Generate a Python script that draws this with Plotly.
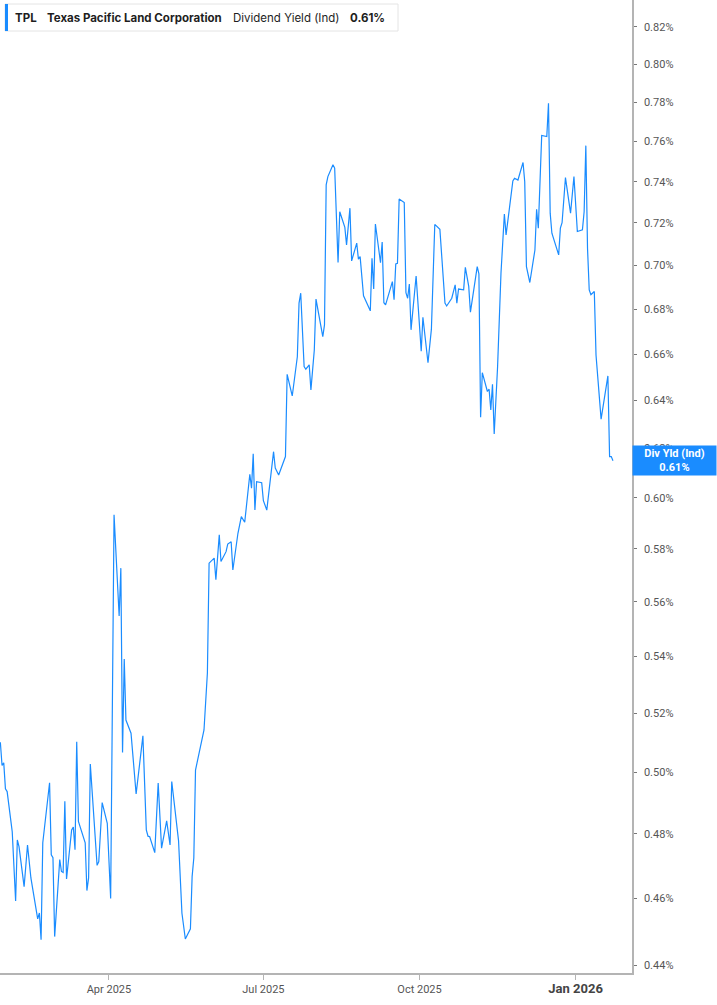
import math
import plotly.graph_objects as go

# dividend yield (ind), %
dates = [
    "2025-01-27", "2025-01-28", "2025-01-29", "2025-01-30", "2025-01-31", "2025-02-03", "2025-02-05", "2025-02-06",
    "2025-02-07", "2025-02-10", "2025-02-12", "2025-02-14", "2025-02-18", "2025-02-19", "2025-02-20", "2025-02-21",
    "2025-02-25", "2025-02-26", "2025-02-27", "2025-02-28", "2025-03-03", "2025-03-04", "2025-03-05", "2025-03-06",
    "2025-03-07", "2025-03-10", "2025-03-11", "2025-03-12", "2025-03-13", "2025-03-14", "2025-03-18", "2025-03-19",
    "2025-03-20", "2025-03-21", "2025-03-25", "2025-03-26", "2025-03-28", "2025-03-31", "2025-04-02", "2025-04-04",
    "2025-04-07", "2025-04-08", "2025-04-09", "2025-04-10", "2025-04-11", "2025-04-14", "2025-04-17", "2025-04-21",
    "2025-04-23", "2025-04-24", "2025-04-25", "2025-04-28", "2025-04-30", "2025-05-02", "2025-05-05", "2025-05-07",
    "2025-05-08", "2025-05-12", "2025-05-14", "2025-05-16", "2025-05-19", "2025-05-20", "2025-05-21", "2025-05-22",
    "2025-05-27", "2025-05-29", "2025-05-30", "2025-06-02", "2025-06-03", "2025-06-05", "2025-06-06", "2025-06-09",
    "2025-06-10", "2025-06-12", "2025-06-13", "2025-06-16", "2025-06-18", "2025-06-20", "2025-06-23", "2025-06-24",
    "2025-06-25", "2025-06-26", "2025-06-27", "2025-06-30", "2025-07-01", "2025-07-03", "2025-07-07", "2025-07-08",
    "2025-07-10", "2025-07-14", "2025-07-15", "2025-07-18", "2025-07-21", "2025-07-22", "2025-07-23", "2025-07-25",
    "2025-07-26", "2025-07-28", "2025-07-29", "2025-07-31", "2025-08-01", "2025-08-03", "2025-08-05", "2025-08-06",
    "2025-08-07", "2025-08-08", "2025-08-11", "2025-08-12", "2025-08-14", "2025-08-15", "2025-08-18", "2025-08-19",
    "2025-08-21", "2025-08-22", "2025-08-25", "2025-08-26", "2025-08-27", "2025-08-29", "2025-09-02", "2025-09-03",
    "2025-09-04", "2025-09-05", "2025-09-08", "2025-09-09", "2025-09-10", "2025-09-11", "2025-09-14", "2025-09-15",
    "2025-09-16", "2025-09-17", "2025-09-18", "2025-09-19", "2025-09-22", "2025-09-23", "2025-09-24", "2025-09-25",
    "2025-09-26", "2025-09-29", "2025-10-02", "2025-10-03", "2025-10-06", "2025-10-08", "2025-10-10", "2025-10-13",
    "2025-10-16", "2025-10-17", "2025-10-20", "2025-10-22", "2025-10-23", "2025-10-24", "2025-10-27", "2025-10-28",
    "2025-10-30", "2025-10-31", "2025-11-04", "2025-11-05", "2025-11-06", "2025-11-07", "2025-11-10", "2025-11-11",
    "2025-11-12", "2025-11-13", "2025-11-14", "2025-11-16", "2025-11-18", "2025-11-20", "2025-11-21", "2025-11-25",
    "2025-11-26", "2025-11-28", "2025-12-01", "2025-12-02", "2025-12-03", "2025-12-05", "2025-12-08", "2025-12-09",
    "2025-12-10", "2025-12-12", "2025-12-15", "2025-12-16", "2025-12-17", "2025-12-18", "2025-12-22", "2025-12-23",
    "2025-12-24", "2025-12-26", "2025-12-29", "2025-12-31", "2026-01-02", "2026-01-05", "2026-01-06", "2026-01-07",
    "2026-01-08", "2026-01-09", "2026-01-10", "2026-01-12", "2026-01-13", "2026-01-16", "2026-01-20", "2026-01-21",
    "2026-01-22", "2026-01-23",
]
yield_pct = [
    0.5101, 0.5023, 0.5032, 0.4946, 0.4937, 0.4807, 0.4591, 0.4781,
    0.4760, 0.4635, 0.4765, 0.4662, 0.4537, 0.4555, 0.4475, 0.4772,
    0.4966, 0.4734, 0.4725, 0.4484, 0.4719, 0.4682, 0.4679, 0.4905,
    0.4659, 0.4813, 0.4822, 0.4750, 0.5103, 0.4840, 0.4772, 0.4623,
    0.4662, 0.5028, 0.4701, 0.4713, 0.4901, 0.4834, 0.4599, 0.5932,
    0.5547, 0.5726, 0.5067, 0.5391, 0.5177, 0.5132, 0.4929, 0.5123,
    0.4813, 0.4793, 0.4791, 0.4741, 0.4965, 0.4755, 0.4842, 0.4765,
    0.4970, 0.4779, 0.4554, 0.4477, 0.4507, 0.4666, 0.4724, 0.5008,
    0.5143, 0.5341, 0.5745, 0.5764, 0.5682, 0.5854, 0.5751, 0.5789,
    0.5818, 0.5827, 0.5719, 0.5860, 0.5925, 0.5903, 0.6094, 0.6038,
    0.6177, 0.5951, 0.6064, 0.6060, 0.5988, 0.5951, 0.6186, 0.6119,
    0.6091, 0.6166, 0.6512, 0.6419, 0.6588, 0.6827, 0.6872, 0.6545,
    0.6534, 0.6553, 0.6445, 0.6618, 0.6845, 0.6766, 0.6677, 0.6729,
    0.7384, 0.7425, 0.7483, 0.7467, 0.7013, 0.7254, 0.7179, 0.7096,
    0.7271, 0.7021, 0.7104, 0.7029, 0.7041, 0.6860, 0.6792, 0.7033,
    0.6891, 0.7195, 0.7013, 0.7109, 0.6829, 0.6819, 0.6903, 0.6925,
    0.6842, 0.7007, 0.7010, 0.7315, 0.7298, 0.6875, 0.6849, 0.6914,
    0.6707, 0.6951, 0.6613, 0.6763, 0.6562, 0.6710, 0.7193, 0.7170,
    0.6827, 0.6814, 0.6849, 0.6910, 0.6827, 0.6891, 0.6887, 0.6991,
    0.6903, 0.6786, 0.6994, 0.6961, 0.6329, 0.6519, 0.6438, 0.6448,
    0.6360, 0.6469, 0.6259, 0.6545, 0.6964, 0.7243, 0.7143, 0.7403,
    0.7417, 0.7408, 0.7495, 0.7400, 0.6994, 0.6921, 0.7072, 0.7266,
    0.7175, 0.7630, 0.7625, 0.7795, 0.7247, 0.7151, 0.7049, 0.7175,
    0.7201, 0.7420, 0.7247, 0.7425, 0.7159, 0.7167, 0.7254, 0.7579,
    0.7080, 0.6887, 0.6865, 0.6880, 0.6596, 0.6321, 0.6505, 0.6166,
    0.6166, 0.6149,
]

y_ticks = [0.44, 0.46, 0.48, 0.50, 0.52, 0.54, 0.56, 0.58, 0.60, 0.62,
           0.64, 0.66, 0.68, 0.70, 0.72, 0.74, 0.76, 0.78, 0.80, 0.82]
y_tick_labels = ["%.2f%%" % v for v in y_ticks]
x_ticks = ["2025-04-01", "2025-07-01", "2025-10-01", "2026-01-01"]
x_tick_labels = ["Apr 2025", "Jul 2025", "Oct 2025",
                 "<b><span style='font-size:13px;color:#444'>Jan 2026</span></b>"]

ticker = "TPL"
company = "Texas Pacific Land Corporation"
metric = "Dividend Yield (Ind)"
last_val = yield_pct[-1]

BLUE = "#1a8cff"
W, H = 717, 1005
PL, PR, PT, PB = 0, 85, 0, 32
pw, ph = W - PL - PR, H - PT - PB


def px(x):
    return x / pw


def py(y):
    return 1 - y / ph


fig = go.Figure()
fig.add_trace(go.Scatter(x=dates, y=yield_pct, mode="lines",
                         line=dict(color=BLUE, width=1.2), hoverinfo="skip"))

fig.update_layout(
    width=W, height=H,
    margin=dict(l=PL, r=PR, t=PT, b=PB),
    paper_bgcolor="white", plot_bgcolor="white",
    showlegend=False,
    font=dict(family="Roboto", size=11, color="#555"),
)
fig.update_xaxes(
    type="date", range=["2025-01-26 19:00", "2026-02-03 05:00"],
    tickvals=x_ticks, ticktext=x_tick_labels,
    showgrid=False, zeroline=False,
    showline=True, linecolor="#b4b4b4", linewidth=1.5,
    ticks="outside", ticklen=5, tickcolor="#b4b4b4", tickwidth=1,
    tickfont=dict(family="Roboto", size=11, color="#555"),
)
fig.update_yaxes(
    type="log", side="right",
    range=[math.log10(0.4377), math.log10(0.8348)],
    tickvals=y_ticks, ticktext=y_tick_labels,
    showgrid=False, zeroline=False,
    showline=True, linecolor="#b4b4b4", linewidth=1.5,
    ticks="outside", ticklen=3, tickcolor="#777", tickwidth=1,
    ticklabelstandoff=5,
    tickfont=dict(family="Roboto", size=11, color="#555"),
)

# header box
fig.add_shape(type="rect", xref="paper", yref="paper",
              x0=px(5), x1=px(398), y0=py(31), y1=py(4),
              line=dict(color="#e4e4e4", width=1), fillcolor="white")
fig.add_shape(type="rect", xref="paper", yref="paper",
              x0=px(5), x1=px(8), y0=py(31), y1=py(4),
              line=dict(width=0), fillcolor=BLUE)
hdr = [(13, "<b>" + ticker + "</b>"), (45, "<b>" + company + "</b>"),
       (231, metric), (348, "<b>%.2f%%</b>" % last_val)]
for x, t in hdr:
    fig.add_annotation(xref="paper", yref="paper", x=px(x), y=py(17.5),
                       xanchor="left", yanchor="middle", showarrow=False,
                       text=t, font=dict(family="Inter", size=11.5, color="#1e1e1e"))

# last value tag on the right axis
fig.add_annotation(xref="paper", yref="y", x=1, y=math.log10(last_val),
                   xanchor="left", yanchor="middle", showarrow=False,
                   text="<b>Div Yld (Ind)</b><br><b>%.2f%%</b>" % last_val,
                   font=dict(family="Roboto", size=11, color="white"),
                   bgcolor=BLUE, width=79, height=25, borderpad=2,
                   align="center")

# page body has a default 8px margin; drop it so the figure fills the window
fig.write_html("out.html", config={"displayModeBar": False},
               post_script="document.body.style.margin='0';")
